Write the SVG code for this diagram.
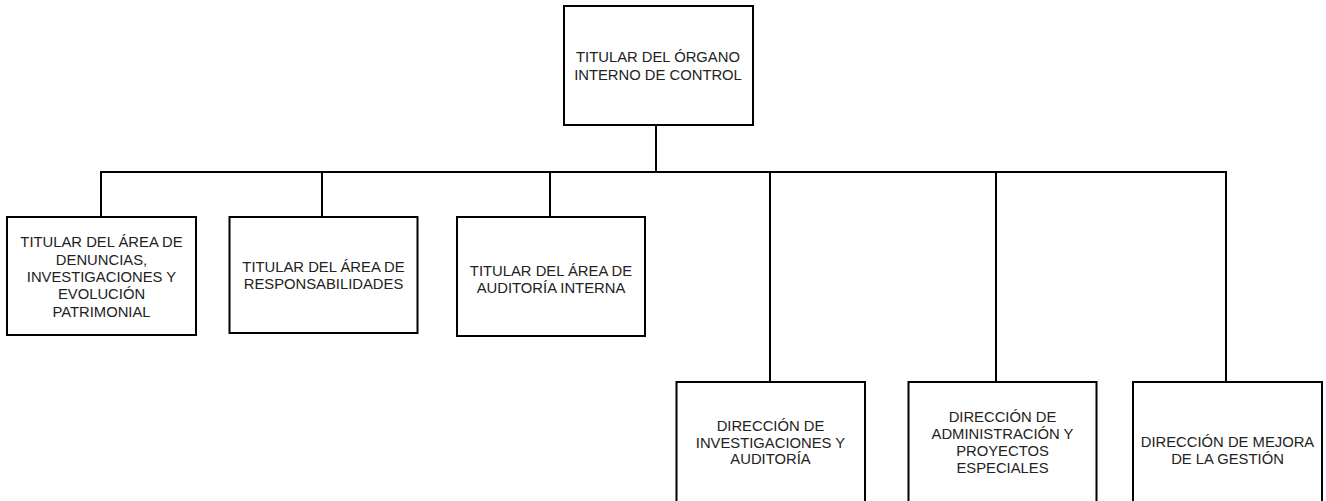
<svg xmlns="http://www.w3.org/2000/svg" width="1326" height="501" viewBox="0 0 1326 501">
<style>
.box{fill:#fff;stroke:#000;stroke-width:2}
.ln{stroke:#000;stroke-width:2;fill:none}
text{font-family:"Liberation Sans",Arial,sans-serif;font-size:14.8px;fill:#222;text-anchor:middle}
</style>
<rect width="1326" height="501" fill="#fff"/>
<g id="connectors">
<path class="ln" d="M656 125V172M100 172H1227M101 172V217M322 172V217M550 172V217M770 172V382M996 172V382M1226 172V382"/>
</g>
<g id="n0">
<rect class="box" x="564" y="6" width="189" height="119"/>
<text x="658" y="62">TITULAR DEL ÓRGANO</text>
<text x="658" y="79.5">INTERNO DE CONTROL</text>
</g>
<g id="n1">
<rect class="box" x="7" y="217" width="189" height="118"/>
<text x="101.5" y="247.3">TITULAR DEL ÁREA DE</text>
<text x="101.5" y="264.5">DENUNCIAS,</text>
<text x="101.5" y="281.7">INVESTIGACIONES Y</text>
<text x="101.5" y="299">EVOLUCIÓN</text>
<text x="101.5" y="316.5">PATRIMONIAL</text>
</g>
<g id="n2">
<rect class="box" x="229.5" y="217" width="188" height="116"/>
<text x="323.5" y="272.3">TITULAR DEL ÁREA DE</text>
<text x="323.5" y="289.3">RESPONSABILIDADES</text>
</g>
<g id="n3">
<rect class="box" x="457" y="217" width="188" height="119"/>
<text x="551" y="275.5">TITULAR DEL ÁREA DE</text>
<text x="551" y="292.5">AUDITORÍA INTERNA</text>
</g>
<g id="n4">
<rect class="box" x="676.5" y="382" width="188.5" height="130"/>
<text x="770.5" y="431">DIRECCIÓN DE</text>
<text x="770.5" y="447.7">INVESTIGACIONES Y</text>
<text x="770.5" y="464.3">AUDITORÍA</text>
</g>
<g id="n5">
<rect class="box" x="908.5" y="382" width="188" height="130"/>
<text x="1002.5" y="421.7">DIRECCIÓN DE</text>
<text x="1002.5" y="439">ADMINISTRACIÓN Y</text>
<text x="1002.5" y="456.3">PROYECTOS</text>
<text x="1002.5" y="473.3">ESPECIALES</text>
</g>
<g id="n6">
<rect class="box" x="1133" y="382" width="189" height="130"/>
<text x="1227.5" y="447.3">DIRECCIÓN DE MEJORA</text>
<text x="1227.5" y="464">DE LA GESTIÓN</text>
</g>
</svg>
